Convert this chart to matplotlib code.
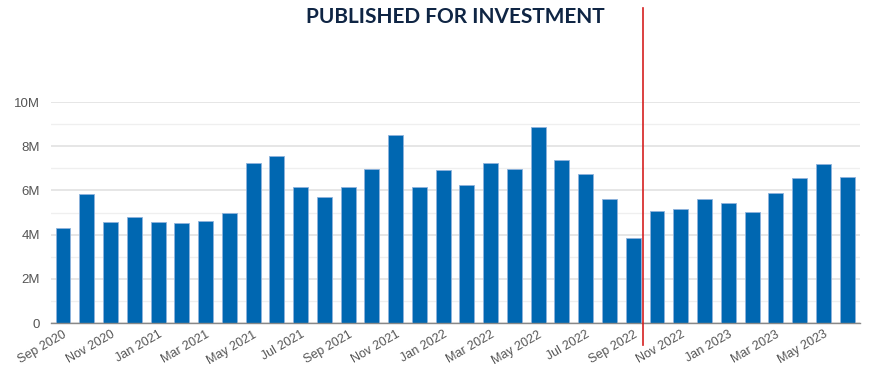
import matplotlib
matplotlib.use("Agg")
import matplotlib.pyplot as plt
from matplotlib.ticker import FuncFormatter, MultipleLocator

# Monthly values (millions), Sep 2020 - Jun 2023
months = ["Sep 2020", "Oct 2020", "Nov 2020", "Dec 2020",
          "Jan 2021", "Feb 2021", "Mar 2021", "Apr 2021", "May 2021", "Jun 2021",
          "Jul 2021", "Aug 2021", "Sep 2021", "Oct 2021", "Nov 2021", "Dec 2021",
          "Jan 2022", "Feb 2022", "Mar 2022", "Apr 2022", "May 2022", "Jun 2022",
          "Jul 2022", "Aug 2022", "Sep 2022", "Oct 2022", "Nov 2022", "Dec 2022",
          "Jan 2023", "Feb 2023", "Mar 2023", "Apr 2023", "May 2023", "Jun 2023"]
published = [4.30, 5.85, 4.58, 4.80,
             4.56, 4.51, 4.62, 4.98, 7.23, 7.56,
             6.14, 5.70, 6.14, 6.98, 8.51, 6.14,
             6.94, 6.24, 7.24, 6.98, 8.85, 7.38,
             6.76, 5.60, 3.86, 5.08, 5.14, 5.61,
             5.41, 5.01, 5.88, 6.58, 7.18, 6.61]
marker_month = "Sep 2022"

plt.rcParams['font.family'] = ['Liberation Sans', 'DejaVu Sans']

fig = plt.figure(figsize=(8.75, 3.85), dpi=100)
ax = fig.add_axes([0.0583, 0.161, 0.9247, 0.574])

x = list(range(len(months)))
values = [v * 1e6 for v in published]
ax.bar(x, values, width=0.63, color="#0067b1", edgecolor="#8fb3dc", linewidth=0.6, zorder=3)

ax.set_xlim(-0.505, len(months) - 0.45)
ax.set_ylim(0, 10e6)
ax.yaxis.set_major_locator(MultipleLocator(2e6))
ax.yaxis.set_minor_locator(MultipleLocator(1e6))
ax.yaxis.set_major_formatter(FuncFormatter(lambda v, p: "0" if v == 0 else f"{v / 1e6:.0f}M"))
ax.grid(axis="y", which="major", color="#e2e2e2", linewidth=1.2, zorder=0)
ax.grid(axis="y", which="minor", color="#efefef", linewidth=0.9, zorder=0)

ax.set_xticks(x[::2])
ax.set_xticklabels(months[::2], rotation=30, ha="right", rotation_mode="anchor")
ax.tick_params(axis="x", length=0, labelsize=9, colors="#555555", pad=4)
ax.tick_params(axis="y", which="both", length=0, labelsize=9.5, colors="#555555", pad=8)

for s in ["top", "right", "left"]:
    ax.spines[s].set_visible(False)
ax.spines["bottom"].set_color("#888888")
ax.spines["bottom"].set_linewidth(1)
ax.spines["bottom"].set_zorder(4)

# vertical marker after Sep 2022
mx = months.index(marker_month) + 0.42
ax.axvline(mx, ymin=-0.1, ymax=1.425, color="#d62020", linewidth=1.2, clip_on=False, zorder=5)

fig.text(0.52, 0.955, "PUBLISHED FOR INVESTMENT", ha="center", va="center",
         fontsize=15, fontweight="bold", color="#0f2544", family=["Lato", "DejaVu Sans"])

fig.savefig("out.png", dpi=100)
